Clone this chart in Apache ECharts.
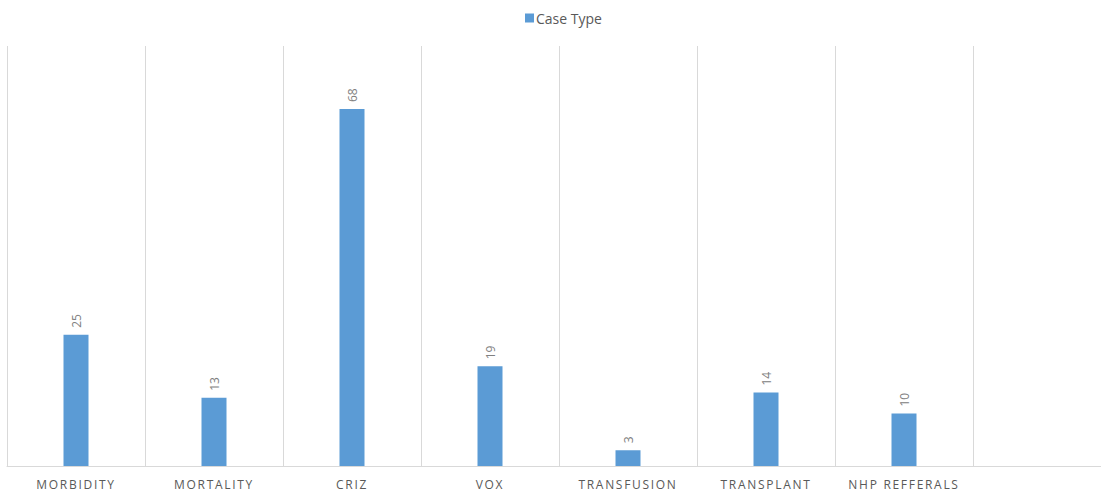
<!DOCTYPE html>
<html><head><meta charset="utf-8">
<script src="https://cdn.jsdelivr.net/npm/echarts@6/dist/echarts.min.js"></script>
<style>html,body{margin:0;padding:0;background:#fff}#c{width:1101px;height:493px;overflow:hidden}
#c svg text[fill="#595958"],#c svg text[fill="rgb(89,89,88)"]{letter-spacing:1.7px}</style>
</head><body><div id="c"></div>
<script>
const categories = ['MORBIDITY','MORTALITY','CRIZ','VOX','TRANSFUSION','TRANSPLANT','NHP REFFERALS',''];
const caseType = [25,13,68,19,3,14,10,null];
const chart = echarts.init(document.getElementById('c'), null, {renderer:'svg'});
chart.setOption({
  animation:false,
  textStyle:{fontFamily:'Open Sans'},
  legend:{top:6,left:520,itemWidth:9,itemHeight:9,icon:'rect',itemGap:6,itemStyle:{borderWidth:0},
    textStyle:{color:'#595959',fontSize:14,fontFamily:'Open Sans',padding:[0,0,0,-3]},data:['Case Type']},
  grid:{left:7,width:1104,top:46,bottom:27,outerBoundsMode:'none',containLabel:false},
  xAxis:{type:'category',data:categories,
    axisLine:{lineStyle:{color:'#d9d9d9'}},axisTick:{show:false},
    splitLine:{show:true,lineStyle:{color:'#d9d9d9'}},
    axisLabel:{color:'#595958',fontSize:12,margin:12,interval:0,fontFamily:'Open Sans'}},
  yAxis:{type:'value',min:0,max:80,show:false},
  series:[{name:'Case Type',type:'bar',data:caseType,barWidth:25,
    itemStyle:{color:'#5B9BD5'},
    label:{show:true,position:'top',rotate:90,align:'left',verticalAlign:'middle',distance:7,color:'#808080',fontSize:12,fontFamily:'Open Sans'}}]
});
</script></body></html>
